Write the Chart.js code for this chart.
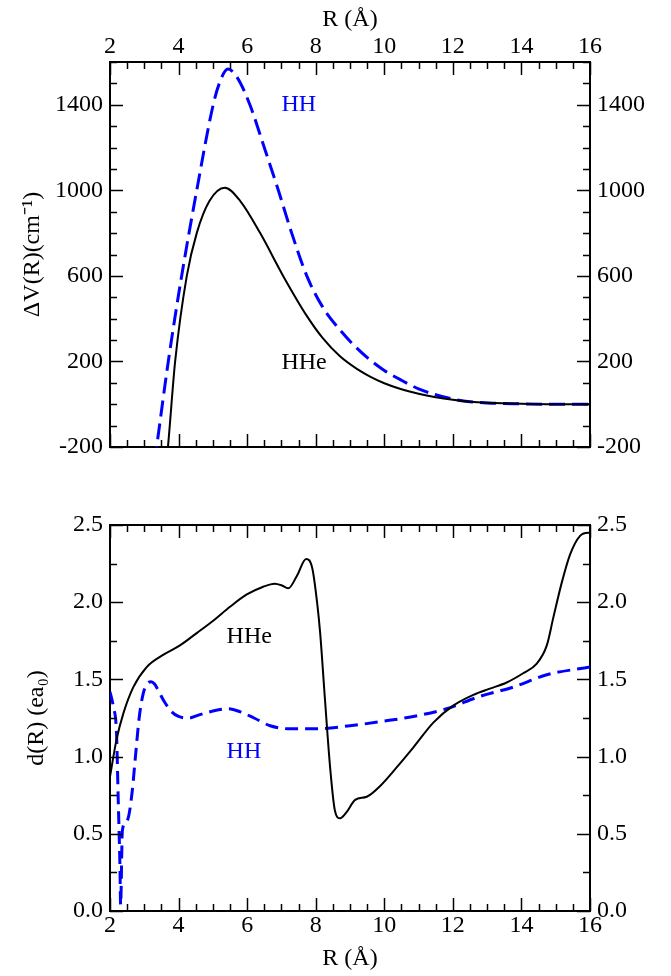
<!DOCTYPE html>
<html>
<head>
<meta charset="utf-8">
<script src="https://cdn.jsdelivr.net/npm/chart.js@4.4.1/dist/chart.umd.min.js"></script>
<style>
  html, body { margin: 0; padding: 0; background: #fff; }
  #wrap { position: relative; width: 671px; height: 976px; }
  canvas { position: absolute; left: 0; }
  #c1 { top: 0; }
  #c2 { top: 488px; }
</style>
</head>
<body>
<div id="wrap">
  <canvas id="c1" width="671" height="488"></canvas>
  <canvas id="c2" width="671" height="488"></canvas>
</div>
<script>
// ---------- Data ----------
// Top panel: ΔV(R) in cm^-1
const hhTopR   = [3.30, 3.36, 3.70, 4.09, 4.53, 5.01, 5.20, 5.44, 5.70, 6.08, 6.50, 6.91, 7.30, 7.74, 8.20, 8.71, 9.20, 9.60, 10.0, 10.5, 11.0, 11.5, 12.0, 12.5, 13.0, 14.0, 15.0, 16.0];
const hhTopV   = [-270, -200, 200, 600, 1000, 1400, 1505, 1567, 1530, 1400, 1200, 1000, 800, 600, 455, 347, 262, 205, 158, 112, 72, 44, 24, 12, 6, 2, 0, 0];
const hheTopR  = [3.65, 3.69, 3.90, 4.24, 4.53, 4.90, 5.35, 5.80, 6.38, 7.05, 7.74, 8.20, 8.70, 9.20, 9.60, 10.0, 10.5, 11.0, 11.5, 12.0, 12.5, 13.0, 14.0, 15.0, 16.0];
const hheTopV  = [-260, -200, 200, 600, 800, 950, 1012, 950, 800, 600, 413, 310, 225, 165, 128, 98, 70, 49, 33, 21, 12, 7, 2, 0, 0];

// Bottom panel: d(R) in e a0
const hhBotR   = [2.00, 2.10, 2.19, 2.24, 2.29, 2.31, 2.36, 2.45, 2.55, 2.65, 2.75, 2.85, 2.97, 3.10, 3.20, 3.30, 3.45, 3.60, 3.80, 4.00, 4.30, 4.60, 5.00, 5.45, 5.80, 6.20, 6.67, 7.25, 8.00, 9.00, 10.0, 10.85, 11.82, 12.79, 13.76, 14.74, 16.0];
const hhBotD   = [1.42, 1.32, 1.15, 0.72, 0.29, 0.04, 0.52, 0.57, 0.62, 0.78, 1.02, 1.25, 1.41, 1.475, 1.485, 1.47, 1.41, 1.35, 1.29, 1.26, 1.25, 1.27, 1.295, 1.31, 1.29, 1.25, 1.20, 1.18, 1.18, 1.20, 1.23, 1.26, 1.31, 1.39, 1.45, 1.53, 1.58];
const hheBotR  = [2.00, 2.19, 2.39, 2.68, 3.07, 3.56, 4.04, 4.53, 5.01, 5.50, 5.99, 6.47, 6.80, 7.00, 7.20, 7.45, 7.72, 7.90, 8.05, 8.13, 8.27, 8.42, 8.56, 8.71, 8.90, 9.15, 9.49, 9.88, 10.36, 10.85, 11.43, 12.01, 12.60, 13.08, 13.57, 14.05, 14.44, 14.74, 14.93, 15.18, 15.42, 15.71, 15.95, 16.0];
const hheBotD  = [0.87, 1.11, 1.28, 1.45, 1.58, 1.66, 1.72, 1.80, 1.88, 1.97, 2.05, 2.10, 2.12, 2.11, 2.09, 2.17, 2.28, 2.22, 1.98, 1.80, 1.37, 0.93, 0.65, 0.60, 0.64, 0.72, 0.74, 0.81, 0.93, 1.06, 1.22, 1.33, 1.40, 1.44, 1.48, 1.54, 1.60, 1.72, 1.90, 2.13, 2.31, 2.43, 2.45, 2.45];

// Tick labels
const xTicks    = [2, 4, 6, 8, 10, 12, 14, 16];
const yTopTicks = [-200, 200, 600, 1000, 1400];
const yBotTicks = [0.0, 0.5, 1.0, 1.5, 2.0, 2.5];
// minor tick spacings
const xMinorStep = 0.5, yTopMinorStep = 100, yBotMinorStep = 0.25;

// ---------- Styles ----------
const FONT = { family: 'Liberation Serif', size: 24 };
const BLUE = '#0000ff';
const pts = (xs, ys) => xs.map((x, i) => ({ x, y: ys[i] }));

function range(a, b, s) { const r = []; for (let v = a; v <= b + 1e-9; v += s) r.push(+v.toFixed(6)); return r; }

const innerTicks = {
  id: 'innerTicks',
  afterDatasetsDraw(chart, args, o) {
    const { ctx, chartArea: a, scales } = chart;
    ctx.save();
    ctx.strokeStyle = '#000';
    ctx.lineWidth = 1.5;
    const isMajor = (v, majors) => majors.some(m => Math.abs(m - v) < 1e-6);
    const draw = (scale, side, values, majors) => {
      values.forEach(v => {
        const len = isMajor(v, majors) ? 13 : 7;
        const p = Math.round(scale.getPixelForValue(v)) + 0.5;
        ctx.beginPath();
        if (side === 'top') { ctx.moveTo(p, a.top); ctx.lineTo(p, a.top + len); }
        if (side === 'bottom') { ctx.moveTo(p, a.bottom); ctx.lineTo(p, a.bottom - len); }
        if (side === 'left') { ctx.moveTo(a.left, p); ctx.lineTo(a.left + len, p); }
        if (side === 'right') { ctx.moveTo(a.right, p); ctx.lineTo(a.right - len, p); }
        ctx.stroke();
      });
    };
    draw(scales.x, 'top', o.xVals, o.xMajors);
    draw(scales.xb, 'bottom', o.xVals, o.xMajors);
    draw(scales.y, 'left', o.yVals, o.yMajors);
    draw(scales.y2, 'right', o.yVals, o.yMajors);
    ctx.restore();
  }
};

const textLabels = {
  id: 'textLabels',
  afterDatasetsDraw(chart, args, o) {
    const { ctx, scales } = chart;
    ctx.save();
    ctx.font = `${FONT.size}px ${FONT.family}`;
    ctx.textAlign = 'left';
    ctx.textBaseline = 'middle';
    o.items.forEach(it => {
      ctx.fillStyle = it.color;
      ctx.fillText(it.text, scales.x.getPixelForValue(it.x), scales.y.getPixelForValue(it.y));
    });
    ctx.restore();
  }
};

function makeChart(id, cfg) {
  const setTicks = vals => (s) => { s.ticks = vals.map(v => ({ value: v })); };
  const border = { display: true, color: '#000', width: 2 };
  const grid = { display: false, drawTicks: false };
  return new Chart(document.getElementById(id), {
    type: 'line',
    data: { datasets: cfg.datasets },
    options: {
      responsive: false,
      animation: false,
      devicePixelRatio: 1,
      layout: { padding: 0 },
      elements: { point: { radius: 0 } },
      plugins: {
        legend: { display: false },
        tooltip: { enabled: false },
        innerTicks: { xVals: range(2, 16, xMinorStep), xMajors: xTicks, yVals: cfg.yVals, yMajors: cfg.yTicks },
        textLabels: { items: cfg.labels }
      },
      scales: {
        x: {
          type: 'linear', position: 'top', min: 2, max: 16,
          afterFit: s => { s.height = cfg.topH; },
          afterBuildTicks: setTicks(xTicks),
          ticks: { display: cfg.topLabels, autoSkip: false, maxRotation: 0, padding: 1, font: FONT, color: '#000' },
          grid, border,
          title: { display: cfg.topLabels, text: 'R (Å)', font: FONT, color: '#000', padding: { top: 5, bottom: 0 } }
        },
        xb: {
          type: 'linear', position: 'bottom', min: 2, max: 16,
          afterFit: s => { s.height = cfg.botH; },
          afterBuildTicks: setTicks(xTicks),
          ticks: { display: cfg.botLabels, autoSkip: false, maxRotation: 0, padding: 0, font: FONT, color: '#000' },
          grid, border,
          title: { display: cfg.botLabels, text: 'R (Å)', font: FONT, color: '#000', padding: { top: 0, bottom: 3 } }
        },
        y: {
          type: 'linear', position: 'left', min: cfg.yMin, max: cfg.yMax,
          afterFit: s => { s.width = 110; },
          afterBuildTicks: setTicks(cfg.yTicks),
          ticks: { padding: 7, font: FONT, color: '#000', callback: cfg.fmt },
          grid, border,
          title: { display: true, text: cfg.yTitle, font: FONT, color: '#000', padding: { top: cfg.yTitlePad, bottom: 0 } }
        },
        y2: {
          type: 'linear', position: 'right', min: cfg.yMin, max: cfg.yMax,
          afterFit: s => { s.width = 81; },
          afterBuildTicks: setTicks(cfg.yTicks),
          ticks: { padding: 7, font: FONT, color: '#000', callback: cfg.fmt },
          grid, border
        }
      }
    },
    plugins: [innerTicks, textLabels]
  });
}

makeChart('c1', {
  topH: 62, botH: 41, topLabels: true, botLabels: false,
  yMin: -200, yMax: 1600, yTicks: yTopTicks, yVals: range(-200, 1600, yTopMinorStep),
  fmt: v => String(v),
  yTitle: 'ΔV(R)(cm⁻¹)', yTitlePad: 18,
  datasets: [
    { data: pts(hheTopR, hheTopV), borderColor: '#000', borderWidth: 2, cubicInterpolationMode: 'monotone', xAxisID: 'x', yAxisID: 'y' },
    { data: pts(hhTopR, hhTopV), borderColor: BLUE, borderWidth: 3, borderDash: [16, 7], cubicInterpolationMode: 'monotone', xAxisID: 'x', yAxisID: 'y' }
  ],
  labels: [
    { text: 'HH', x: 7.0, y: 1400, color: BLUE },
    { text: 'HHe', x: 7.0, y: 193, color: '#000' }
  ]
});

makeChart('c2', {
  topH: 37, botH: 65, topLabels: false, botLabels: true,
  yMin: 0, yMax: 2.5, yTicks: yBotTicks, yVals: range(0, 2.5, yBotMinorStep),
  fmt: v => Number(v).toFixed(1),
  yTitle: 'd(R) (ea₀)', yTitlePad: 22,
  datasets: [
    { data: pts(hheBotR, hheBotD), borderColor: '#000', borderWidth: 2, cubicInterpolationMode: 'monotone', xAxisID: 'x', yAxisID: 'y' },
    { data: pts(hhBotR, hhBotD), borderColor: BLUE, borderWidth: 3, borderDash: [13, 7], cubicInterpolationMode: 'monotone', xAxisID: 'x', yAxisID: 'y' }
  ],
  labels: [
    { text: 'HHe', x: 5.40, y: 1.777, color: '#000' },
    { text: 'HH', x: 5.40, y: 1.032, color: BLUE }
  ]
});
</script>
</body>
</html>
